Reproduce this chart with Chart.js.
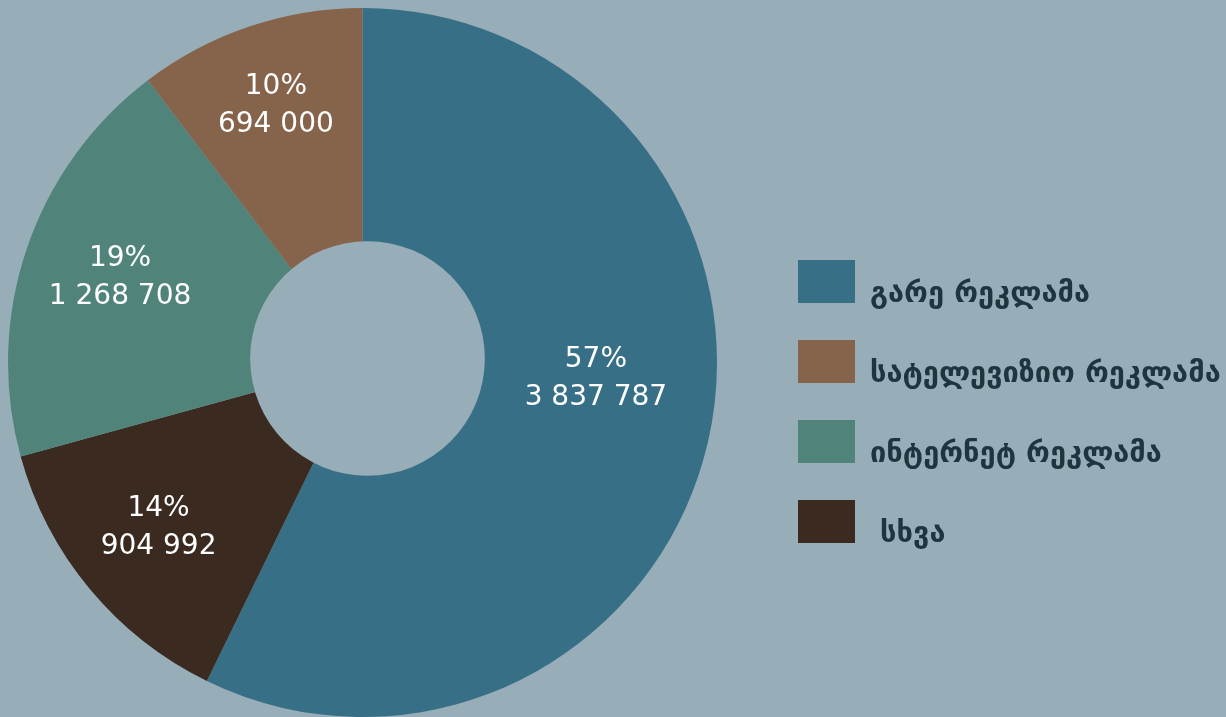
<!DOCTYPE html>
<html>
<head>
<meta charset="utf-8">
<script src="https://cdn.jsdelivr.net/npm/chart.js@4/dist/chart.umd.min.js"></script>
<style>
  html, body { margin: 0; padding: 0; background: #97aeb8; }
  #wrap { width: 1226px; height: 717px; position: relative; }
</style>
</head>
<body>
<div id="wrap"><canvas id="adChart"></canvas></div>
<script>
// data, in drawing order (clockwise from the top)
const categories = ['გარე რეკლამა', ' სხვა', 'ინტერნეტ რეკლამა', 'სატელევიზიო რეკლამა'];
const amounts = [3837787, 904992, 1268708, 694000];
const percentLabels = ['57%', '14%', '19%', '10%'];
const valueLabels = ['3 837 787', '904 992', '1 268 708', '694 000'];
const sliceColors = ['#376f87', '#3a2a20', '#50847b', '#86634b'];
// legend lists the categories in this order
const legendOrder = [0, 3, 2, 1];

// the hole sits a little off the pie centre in the original
const offsetHole = {
    id: 'offsetHole',
    afterDatasetsDraw(chart, args, opts) {
        const arc = chart.getDatasetMeta(0).data[0];
        const ctx = chart.ctx;
        ctx.save();
        ctx.fillStyle = opts.color;
        ctx.beginPath();
        ctx.arc(arc.x + opts.dx, arc.y + opts.dy, arc.outerRadius * opts.ratio, 0, Math.PI * 2);
        ctx.fill();
        ctx.restore();
    }
};

// white percent + value text inside each slice
const sliceLabels = {
    id: 'sliceLabels',
    afterDatasetsDraw(chart, args, opts) {
        const ctx = chart.ctx;
        const meta = chart.getDatasetMeta(0);
        ctx.save();
        ctx.fillStyle = '#ffffff';
        ctx.font = '28px "DejaVu Sans"';
        ctx.textAlign = 'center';
        ctx.textBaseline = 'middle';
        meta.data.forEach((arc, i) => {
            const mid = (arc.startAngle + arc.endAngle) / 2 + (opts.angleShift[i] || 0);
            const r = arc.outerRadius * opts.radius[i];
            const x = arc.x + Math.cos(mid) * r;
            const y = arc.y + Math.sin(mid) * r;
            ctx.fillText(percentLabels[i], x, y - 19);
            ctx.fillText(valueLabels[i], x, y + 19);
        });
        ctx.restore();
    }
};

// legend on the right
const sideLegend = {
    id: 'sideLegend',
    afterDraw(chart) {
        const ctx = chart.ctx;
        ctx.save();
        ctx.font = 'bold 29px "DejaVu Sans"';
        ctx.textBaseline = 'alphabetic';
        ctx.textAlign = 'left';
        legendOrder.forEach((idx, row) => {
            const top = 260 + row * 80;
            ctx.fillStyle = sliceColors[idx];
            ctx.fillRect(798, top, 57, 43);
            ctx.fillStyle = '#1e343e';
            ctx.fillText(categories[idx], 870, top + 42);
        });
        ctx.restore();
    }
};

const ctx = document.getElementById('adChart').getContext('2d');
const adChart = new Chart(ctx, {
    type: 'doughnut',
    data: {
        labels: categories,
        datasets: [{
            data: amounts,
            backgroundColor: sliceColors,
            borderWidth: 0
        }]
    },
    options: {
        responsive: true,
        maintainAspectRatio: false,
        animation: false,
        cutout: 0,
        layout: {
            padding: { left: 8, top: 8, right: 509, bottom: 0 }
        },
        plugins: {
            legend: { display: false },
            tooltip: { enabled: false },
            offsetHole: { color: '#97aeb8', dx: 5, dy: -4, ratio: 0.331 },
            sliceLabels: {
                radius: [0.66, 0.74, 0.725, 0.765],
                angleShift: [-0.157, 0.012, 0.012, 0]
            }
        }
    },
    plugins: [offsetHole, sliceLabels, sideLegend]
});
</script>
</body>
</html>
